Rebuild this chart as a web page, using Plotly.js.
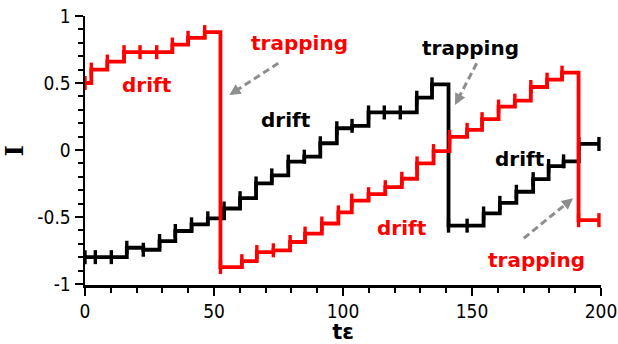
<!DOCTYPE html>
<html>
<head>
<meta charset="utf-8">
<script src="https://cdn.plot.ly/plotly-3.0.1.min.js"></script>
<style>html,body{margin:0;padding:0;background:#fff;}#chart{width:618px;height:344px;}</style>
</head>
<body>
<div id="chart"></div>
<script>
// Step times (tε) at which each curve takes a new value
var redT = [0, 2.44, 8.65, 15.13, 21.33, 27.8, 33.86, 39.95, 46.4, 52.5, 60.8, 66.6, 73.0, 79.5, 85.3, 91.8, 98.2, 103.4, 109.9, 116.4, 122.8, 128.7, 135.1, 141.3, 148.1, 153.9, 160.3, 166.6, 172.8, 179.1, 184.9, 191.3, 199.2];
var redI = [0.5, 0.6, 0.66, 0.73, 0.73, 0.73, 0.787, 0.837, 0.88, -0.874, -0.83, -0.762, -0.749, -0.687, -0.624, -0.549, -0.466, -0.378, -0.33, -0.278, -0.215, -0.1, -0.008, 0.097, 0.15, 0.23, 0.324, 0.368, 0.47, 0.525, 0.577, -0.524, -0.524];

var blackT = [0, 4.0, 10.2, 16.2, 22.6, 28.9, 35.0, 41.3, 47.6, 53.9, 60.1, 66.3, 72.4, 78.8, 85.0, 91.2, 97.6, 103.5, 109.9, 116.0, 122.2, 128.6, 134.5, 140.9, 148.1, 154.5, 160.8, 167.2, 173.7, 179.7, 185.5, 191.4, 199.2];
var blackI = [-0.8, -0.8, -0.8, -0.73, -0.745, -0.68, -0.605, -0.555, -0.51, -0.437, -0.36, -0.25, -0.19, -0.087, -0.05, 0.05, 0.162, 0.18, 0.28, 0.28, 0.28, 0.39, 0.49, -0.565, -0.565, -0.474, -0.395, -0.312, -0.218, -0.12, -0.085, 0.045, 0.045];

var xTicks = [0, 50, 100, 150, 200];
var yTicks = [-1, -0.5, 0, 0.5, 1];
var yTickText = ['-1', '-0.5', '0', '0.5', '1'];

var labelFont = 'DejaVu Sans, Verdana, sans-serif';
var tickFont = 'DejaVu Sans Condensed, DejaVu Sans, sans-serif';
var RED = '#ff0000', BLACK = '#000000', GRAY = '#8e8e8e';

function stepTrace(x, y, color) {
  return {
    x: x, y: y, type: 'scatter', mode: 'lines+markers',
    line: {shape: 'hv', color: color, width: 3.8},
    marker: {symbol: 'line-ns', size: 10, line: {color: color, width: 3.4}},
    hoverinfo: 'skip', showlegend: false
  };
}

var data = [stepTrace(blackT, blackI, BLACK), stepTrace(redT, redI, RED)];

function label(txt, x, y, color) {
  return {text: '<b>' + txt + '</b>', x: x, y: y, xref: 'x', yref: 'y', showarrow: false,
          xanchor: 'center', yanchor: 'middle',
          font: {family: labelFont, size: 20, color: color}};
}
function head(x, y, ax, ay) {
  return {text: '', x: x, y: y, xref: 'x', yref: 'y', ax: ax, ay: ay, axref: 'pixel', ayref: 'pixel',
          showarrow: true, arrowhead: 2, arrowsize: 0.75, arrowwidth: 3, arrowcolor: GRAY, standoff: 0};
}
function shaft(x0, y0, x1, y1) {
  return {type: 'line', xref: 'x', yref: 'y', x0: x0, y0: y0, x1: x1, y1: y1,
          line: {color: GRAY, width: 3, dash: '7px,4px'}};
}

var layout = {
  width: 618, height: 344,
  margin: {l: 85, r: 17, t: 16, b: 59},
  paper_bgcolor: '#fff', plot_bgcolor: '#fff',
  showlegend: false,
  xaxis: {
    range: [0, 200], tickvals: xTicks, ticktext: xTicks.map(String),
    ticks: 'outside', ticklen: 8, tickwidth: 2.5, tickcolor: BLACK,
    showline: true, linewidth: 2.5, linecolor: BLACK,
    showgrid: false, zeroline: false,
    minor: {dtick: 10, tick0: 0, ticks: 'outside', ticklen: 5, tickwidth: 2, tickcolor: BLACK, showgrid: false},
    tickfont: {family: tickFont, size: 19, color: BLACK},
    title: {text: '<b>tε</b>', font: {family: labelFont, size: 21, color: BLACK}, standoff: 4}
  },
  yaxis: {
    range: [-1.008, 1.0], tickvals: yTicks, ticktext: yTickText,
    ticks: 'outside', ticklen: 8, tickwidth: 2.5, tickcolor: BLACK,
    showline: true, linewidth: 2.5, linecolor: BLACK,
    showgrid: false, zeroline: false,
    minor: {dtick: 0.1, tick0: 0, ticks: 'outside', ticklen: 5, tickwidth: 2, tickcolor: BLACK, showgrid: false},
    tickfont: {family: tickFont, size: 19, color: BLACK},
    title: {text: '<b>I</b>', font: {family: 'DejaVu Serif, Liberation Serif, serif', size: 24, color: BLACK}, standoff: 10}
  },
  shapes: [
    shaft(74.92, 0.647, 58.53, 0.443),
    shaft(151.82, 0.647, 144.84, 0.389),
    shaft(170.08, -0.659, 186.74, -0.398)
  ],
  annotations: [
    label('drift', 24.2, 0.487, RED),
    label('trapping', 83.3, 0.795, RED),
    label('trapping', 149.6, 0.76, BLACK),
    label('drift', 77.8, 0.224, BLACK),
    label('drift', 168.6, -0.068, BLACK),
    label('drift', 122.75, -0.582, RED),
    label('trapping', 175.1, -0.821, RED),
    head(55.93, 0.410, 10, -6.5),
    head(143.41, 0.336, 5.5, -10.6),
    head(189.15, -0.360, -9.3, 7.6)
  ]
};

Plotly.newPlot('chart', data, layout, {displayModeBar: false, staticPlot: true});
</script>
</body>
</html>
